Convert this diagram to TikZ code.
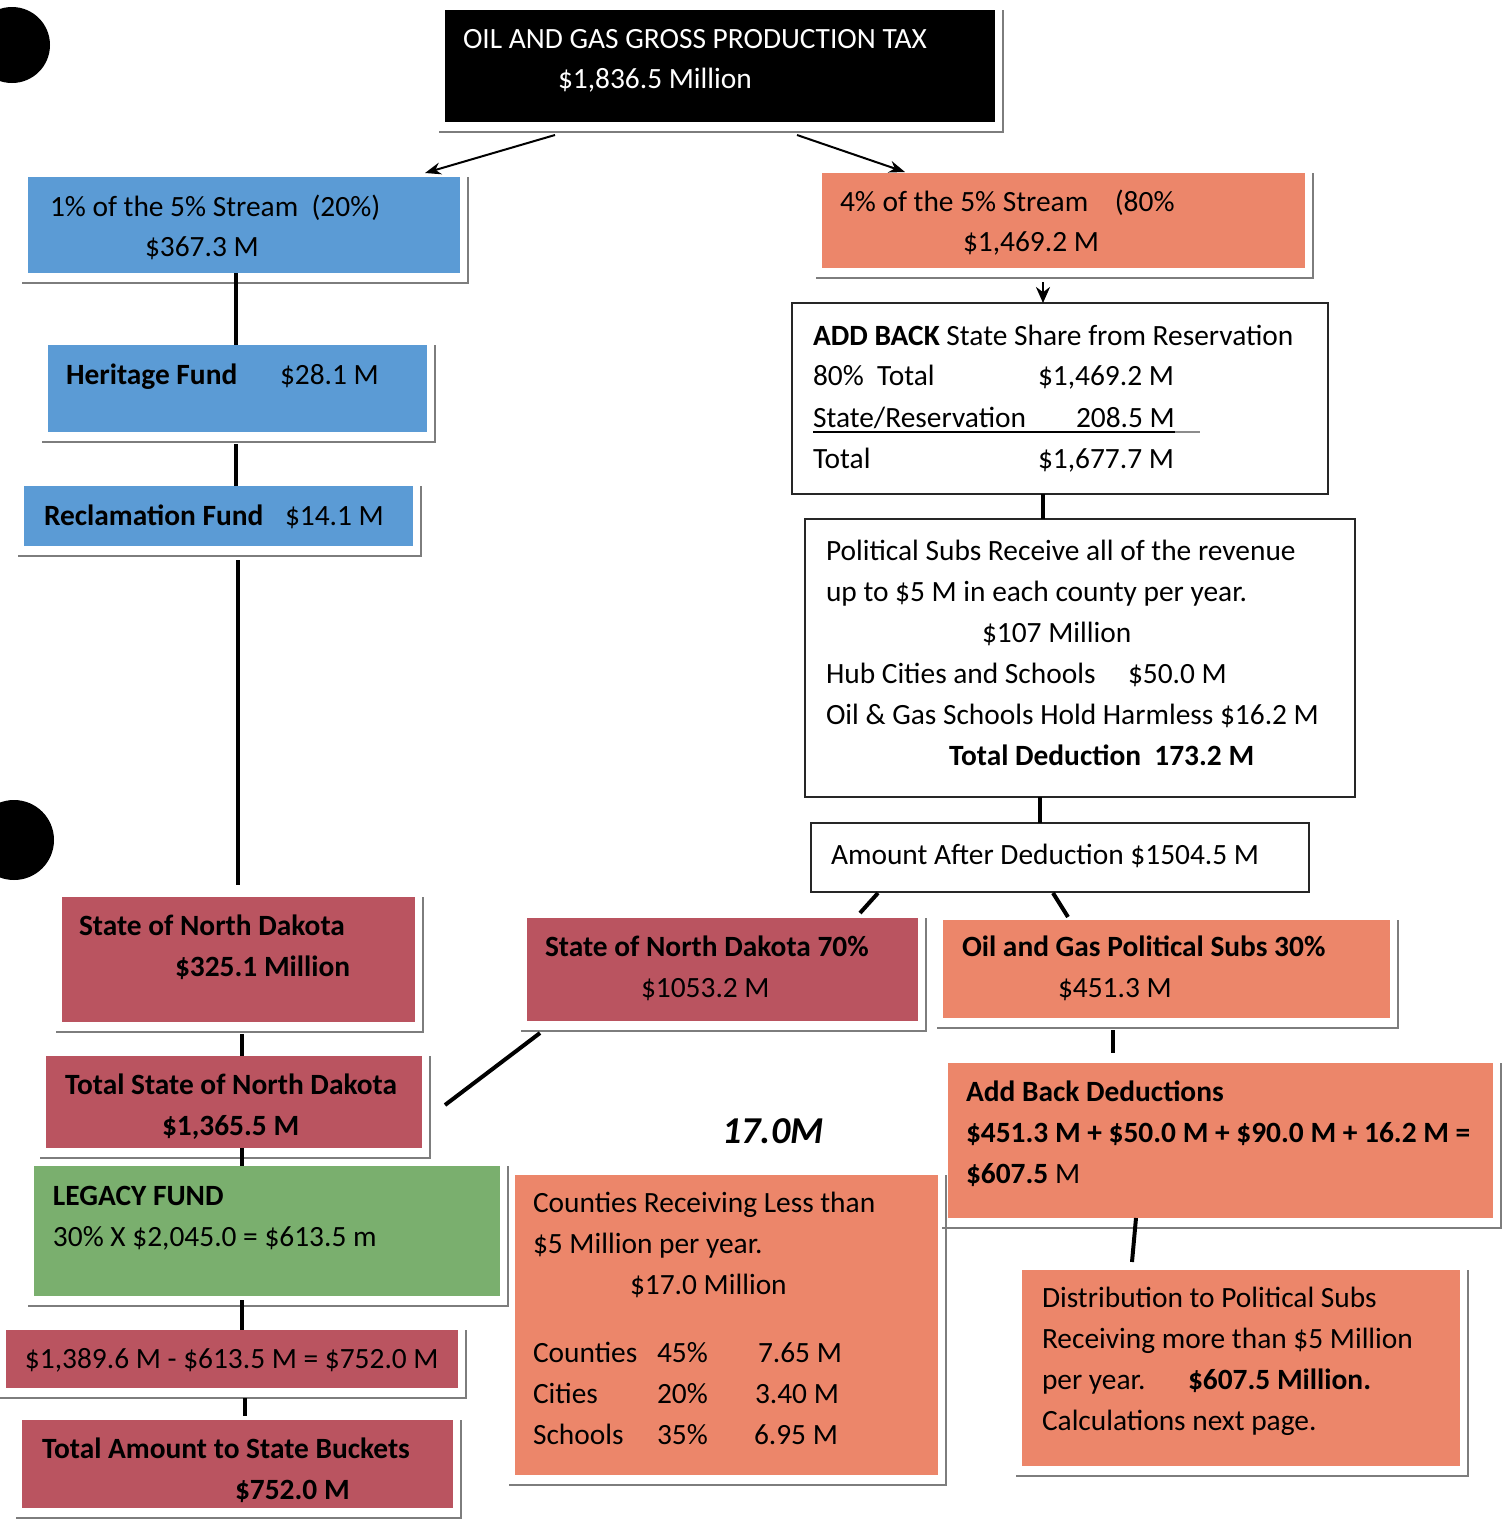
\documentclass[tikz,border=0pt]{standalone}
\usepackage{fontspec}
\setmainfont{Carlito}
\usetikzlibrary{calc,arrows.meta}

\definecolor{skyblue}{RGB}{91,155,213}
\definecolor{salmon}{RGB}{236,134,106}
\definecolor{wine}{RGB}{186,84,96}
\definecolor{sage}{RGB}{122,175,110}
\definecolor{shadegray}{RGB}{125,125,125}

\newcommand\bodysize{\fontsize{14.7pt}{17pt}\selectfont}

\tikzset{
  panel/.style={rectangle, inner sep=0pt, outer sep=0pt, anchor=north west},
  darkbox/.style={panel, fill=black},
  bluebox/.style={panel, fill=skyblue},
  salmonbox/.style={panel, fill=salmon},
  winebox/.style={panel, fill=wine},
  sagebox/.style={panel, fill=sage},
  whitebox/.style={panel, draw=black!85, line width=1.1pt, fill=white},
  txt/.style={inner sep=0pt, outer sep=0pt, anchor=base west, font=\bodysize},
  btxt/.style={txt, font=\bodysize\bfseries},
  link/.style={draw=black, line width=2pt},
  thinarrow/.style={draw=black, line width=1pt, -{Stealth[length=8pt,width=6pt]}},
  shadeline/.style={draw=shadegray, line width=1.3pt},
}

% #1 name, #2 style, #3 x, #4 y, #5 width, #6 height (all in px units)
\newcommand\panelbox[6]{%
  \draw[shadeline] (#3-6,#4+#6+10) -- (#3+#5+8,#4+#6+10) -- (#3+#5+8,#4);
  \node[#2, minimum width=#5*0.5pt, minimum height=#6*0.5pt] (#1) at (#3,#4) {};}
\newcommand\plainbox[6]{%
  \node[#2, minimum width=#5*0.5pt, minimum height=#6*0.5pt] (#1) at (#3,#4) {};}

\begin{document}
\begin{tikzpicture}[x=0.5pt,y=-0.5pt]
\useasboundingbox (0,0) rectangle (1508,1521);

% punch holes
\fill[black] (12,45) circle (38);
\fill[black] (14,840) circle (40);

% ---------- boxes ----------
\panelbox{top}{darkbox}{445}{10}{550}{112}
\panelbox{blue1}{bluebox}{28}{177}{432}{96}
\panelbox{org1}{salmonbox}{822}{173}{483}{95}
\panelbox{herit}{bluebox}{48}{345}{379}{87}
\panelbox{recl}{bluebox}{24}{486}{389}{60}
\plainbox{addbk}{whitebox}{792}{303}{536}{191}
\plainbox{polsub}{whitebox}{805}{519}{550}{278}
\plainbox{after}{whitebox}{811}{823}{498}{69}
\panelbox{stateL}{winebox}{62}{897}{353}{125}
\panelbox{st70}{winebox}{527}{918}{391}{103}
\panelbox{ogps}{salmonbox}{943}{920}{447}{98}
\panelbox{totalL}{winebox}{46}{1056}{376}{92}
\panelbox{legacy}{sagebox}{34}{1166}{466}{130}
\panelbox{addded}{salmonbox}{948}{1063}{545}{155}
\panelbox{counties}{salmonbox}{515}{1175}{423}{300}
\panelbox{subtr}{winebox}{6}{1330}{452}{58}
\panelbox{totamt}{winebox}{22}{1420}{431}{88}
\panelbox{dist}{salmonbox}{1022}{1270}{438}{196}

% ---------- connector columns ----------
\coordinate (cA) at (236,0);
\coordinate (cB) at (238,0);
\coordinate (cC) at (242,0);
\coordinate (cD) at (245,0);
\coordinate (cE) at (1043,0);
\coordinate (cF) at (1040,0);
\coordinate (cG) at (1113,0);

% ---------- connectors ----------
\draw[thinarrow] ($(top.south west)!0.2!(top.south east)+(0,13)$) -- ($(blue1.north east)+(-35,-4)$);
\draw[thinarrow] ($(top.south west)!0.64!(top.south east)+(0,13)$) -- ($(org1.north west)+(83,-1)$);
\draw[link] (blue1.south -| cA) -- (herit.north -| cA);
\draw[link] ($(herit.south -| cA)+(0,12)$) -- (recl.north -| cA);
\draw[link] ($(recl.south -| cB)+(0,14)$) -- ($(stateL.north -| cB)+(0,-12)$);
\draw[link] ($(stateL.south -| cC)+(0,12)$) -- (totalL.north -| cC);
\draw[link] ($(st70.south west)+(13,12)$) -- ($(totalL.east)+(23,3)$);
\draw[link] (totalL.south -| cC) -- (legacy.north -| cC);
\draw[link] ($(legacy.south -| cC)+(0,4)$) -- (subtr.north -| cC);
\draw[link] ($(subtr.south -| cD)+(0,10)$) -- ($(totamt.north -| cD)+(0,-4)$);
\draw[link, line width=1.2pt, -{Stealth[length=8pt,width=7pt]}] ($(org1.south -| cE)+(0,14)$) -- (addbk.north -| cE);
\draw[link] (addbk.south -| cE) -- (polsub.north -| cE);
\draw[link] (polsub.south -| cF) -- (after.north -| cF);
\draw[link] ($(after.south west)+(67,1)$) -- ($(st70.north east)+(-58,-5)$);
\draw[link] ($(after.south west)+(242,1)$) -- ($(ogps.north west)+(125,-3)$);
\draw[link] ($(ogps.south -| cG)+(0,12)$) -- ($(addded.north -| cG)+(0,-10)$);
\draw[link] ($(addded.south west)+(188,0)$) -- ($(dist.north west)+(110,-8)$);

% ---------- texts ----------
\node[txt, text=white] (tTop1) at (463,48) {OIL AND GAS GROSS PRODUCTION TAX};
\node[txt, text=white] (tTop2) at (558,88) {\$1,836.5 Million};

\node[txt] (tB1a) at (50,216) {1\% of the 5\% Stream\ \ (20\%)};
\node[txt] (tB1b) at (145,256) {\$367.3 M};

\node[txt] (tO1a) at (840,211) {4\% of the 5\% Stream\ \ \ \ (80\%};
\node[txt] (tO1b) at (963,251) {\$1,469.2 M};

\node[btxt] (tHa) at (66,384) {Heritage Fund};
\node[txt] (tHb) at (280,384) {\$28.1 M};

\node[btxt] (tRa) at (44,525) {Reclamation Fund};
\node[txt] (tRb) at (285,525) {\$14.1 M};

\node[txt] (tAB1) at (813,345) {\textbf{ADD BACK} State Share from Reservation};
\node[txt] (tAB2) at (813,385) {80\%\ \ Total};
\node[txt] (tAB2v) at (1038,385) {\$1,469.2 M};
\node[txt] (tAB3) at (813,427) {State/Reservation};
\node[txt] (tAB3v) at (1076,427) {208.5 M};
\node[txt] (tAB4) at (813,468) {Total};
\node[txt] (tAB4v) at (1038,468) {\$1,677.7 M};
\draw[black, line width=0.8pt] ($(tAB3.base west)+(0,5)$) -- ($(tAB3v.base east)+(0,5)$);
\draw[black!45, line width=1.2pt] ($(tAB3v.base east)+(0,5)$) -- ++(25,0);

\node[txt] (tP1) at (826,560) {Political Subs Receive all of the revenue};
\node[txt] (tP2) at (826,601) {up to \$5 M in each county per year.};
\node[txt] (tP3) at (982,642) {\$107 Million};
\node[txt] (tP4) at (826,683) {Hub Cities and Schools};
\node[txt] (tP4v) at (1128,683) {\$50.0 M};
\node[txt] (tP5) at (826,724) {Oil \& Gas Schools Hold Harmless \$16.2 M};
\node[btxt] (tP6) at (949,765) {Total Deduction\ \ 173.2 M};

\node[txt] (tAft) at (831,864) {Amount After Deduction \$1504.5 M};

\node[btxt] (tSLa) at (79,935) {State of North Dakota};
\node[btxt] (tSLb) at (175,976) {\$325.1 Million};

\node[btxt] (tS7a) at (545,956) {State of North Dakota 70\%};
\node[txt] (tS7b) at (641,997) {\$1053.2 M};

\node[btxt] (tOGa) at (962,956) {Oil and Gas Political Subs 30\%};
\node[txt] (tOGb) at (1058,997) {\$451.3 M};

\node[btxt] (tTLa) at (65,1094) {Total State of North Dakota};
\node[btxt] (tTLb) at (162,1135) {\$1,365.5 M};

\node[btxt] (tLa) at (53,1205) {LEGACY FUND};
\node[txt] (tLb) at (53,1246) {30\% X \$2,045.0 = \$613.5 m};

\node[txt] (tSub) at (25,1368) {\$1,389.6 M - \$613.5 M = \$752.0 M};

\node[btxt] (tTAa) at (42,1458) {Total Amount to State Buckets};
\node[btxt] (tTAb) at (235,1499) {\$752.0 M};

\node[btxt] (tAD1) at (966,1101) {Add Back Deductions};
\node[btxt] (tAD2) at (966,1142) {\$451.3 M + \$50.0 M + \$90.0 M + 16.2 M =};
\node[txt] (tAD3) at (966,1183) {\textbf{\$607.5} M};

\node[txt] (tD1) at (1042,1307) {Distribution to Political Subs};
\node[txt] (tD2) at (1042,1348) {Receiving more than \$5 Million};
\node[txt] (tD3) at (1042,1389) {per year.};
\node[btxt] (tD3v) at (1188,1389) {\$607.5 Million.};
\node[txt] (tD4) at (1042,1430) {Calculations next page.};

\node[txt] (tC1) at (533,1212) {Counties Receiving Less than};
\node[txt] (tC2) at (533,1253) {\$5 Million per year.};
\node[txt] (tC3) at (630,1294) {\$17.0 Million};
\node[txt] (tC4a) at (533,1362) {Counties};
\node[txt] (tC4b) at (657,1362) {45\%};
\node[txt] (tC4c) at (758,1362) {7.65 M};
\node[txt] (tC5a) at (533,1403) {Cities};
\node[txt] (tC5b) at (657,1403) {20\%};
\node[txt] (tC5c) at (755,1403) {3.40 M};
\node[txt] (tC6a) at (533,1444) {Schools};
\node[txt] (tC6b) at (657,1444) {35\%};
\node[txt] (tC6c) at (754,1444) {6.95 M};

\node[inner sep=0pt, anchor=base west, font=\fontsize{19pt}{21pt}\selectfont\bfseries\itshape] (tHand) at (722,1143) {17.0M};

\end{tikzpicture}
\end{document}
